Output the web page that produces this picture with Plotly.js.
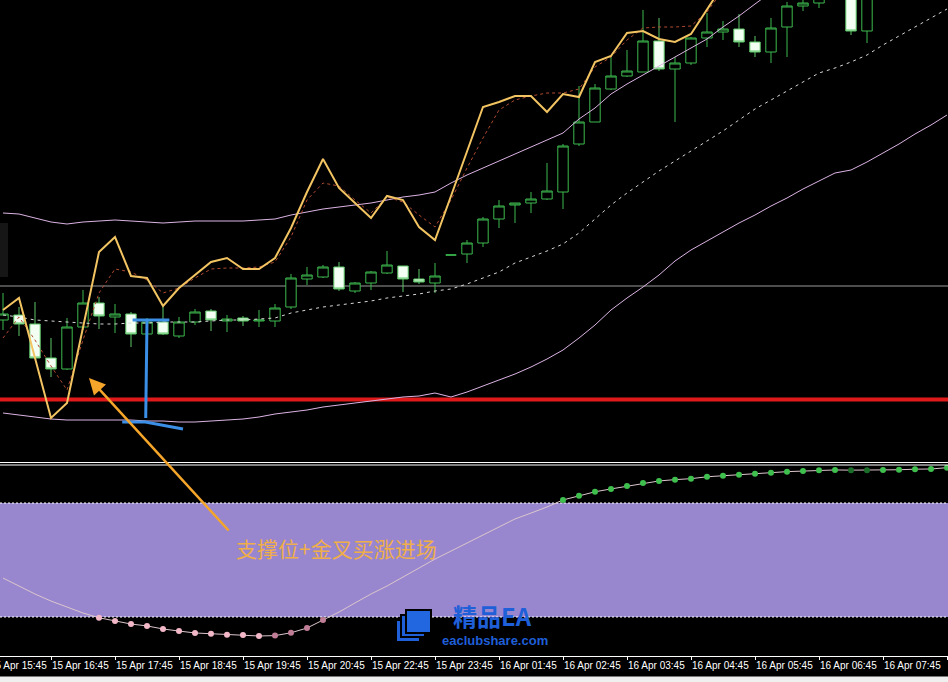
<!DOCTYPE html>
<html><head><meta charset="utf-8">
<script src="https://cdn.plot.ly/plotly-3.0.1.min.js"></script>
<style>html,body{margin:0;padding:0;background:#000;overflow:hidden}#chart{width:948px;height:682px}</style>
</head><body><div id="chart"></div>
<script>
// ---- data (price units; no price scale is shown) ----
const tickLabels = ["15 Apr 15:45","15 Apr 16:45","15 Apr 17:45","15 Apr 18:45","15 Apr 19:45","15 Apr 20:45","15 Apr 22:45","15 Apr 23:45","16 Apr 01:45","16 Apr 02:45","16 Apr 03:45","16 Apr 04:45","16 Apr 05:45","16 Apr 06:45","16 Apr 07:45","16 Apr 08:45"];
const tickBars = [-1,3,7,11,15,19,23,27,31,35,39,43,47,51,55,59];

const open  = [141,146,137,103,92,134,158,144,147,127,139,125,139,150,140,143,140,140,154,182,184,194,170,178,188,195,182,178,206,207,218,242,256,258,262,269,317,339,372,385,389,420,392,398,423,429,432,419,409,434,455,458,471,486,430,476,491,481,496,506];
const high  = [168,154,159,123,143,171,164,157,149,143,154,144,152,152,146,145,151,157,187,194,196,199,179,190,210,195,192,198,206,221,244,261,258,269,298,317,375,377,404,411,451,443,404,424,448,440,447,425,443,459,463,476,491,491,481,501,501,506,516,516];
const low   = [131,125,103,84,91,131,132,128,114,125,126,123,136,130,129,135,134,134,152,176,183,170,168,171,187,169,177,168,206,198,214,233,238,248,261,252,315,339,371,384,389,390,339,396,414,421,414,404,398,404,450,453,466,426,418,466,471,473,486,491];
const close = [147,137,103,92,134,158,145,147,127,139,127,139,149,141,142,140,141,153,183,186,194,172,178,189,196,182,179,185,206,218,242,255,258,262,270,315,339,373,385,390,420,392,398,423,429,432,419,409,433,455,458,471,481,430,476,491,481,496,506,499];

const fastLine = [151,163,103,43,58,133,209,224,185,183,155,173,186,199,203,192,192,203,233,269,302,273,258,243,265,261,234,221,265,310,354,359,365,365,349,367,364,399,405,428,430,422,419,427,451,476,486,496,501,511,516,521,526,521,526,531,536,541,546,551];
const slowLine = [123,144,121,95,71,121,168,192,189,181,168,173,183,192,193,193,194,199,224,261,278,275,261,248,264,259,246,234,261,293,323,351,361,365,368,368,372,394,404,421,433,434,434,435,449,471,481,491,496,501,506,511,516,516,521,526,531,536,541,546];

const bandUpper = [248,247,243,239,237,239,240,241,240,239,238,239,240,240,240,240,241,242,246,249,252,254,256,258,261,264,266,269,278,286,293,300,307,314,321,328,342,353,367,377,386,395,404,413,422,434,445,457,469,481,493,505,517,527,537,547,556,565,574,583];
const bandMid   = [146,144,141,140,139,138,137,137,138,138,139,139,139,140,141,141,142,143,148,151,154,156,158,160,163,165,167,170,172,177,183,189,198,204,210,217,228,242,256,268,279,290,300,310,320,330,341,352,361,370,379,388,393,399,406,416,425,434,443,452];
const bandLower = [48,46,44,42,41,41,41,41,41,40,40,39,39,40,41,42,44,47,49,51,54,56,58,60,62,64,65,68,64,69,75,81,87,94,102,111,123,136,151,163,174,186,200,211,220,229,238,246,255,263,272,280,288,291,299,308,317,327,336,346];

const osc = [40.5,36.3,32.1,28.4,25.3,22.1,19.6,17.9,16.3,15.3,13.7,12.6,11.6,11.2,10.7,10.5,10.0,10.2,11.7,14.2,18.4,22.6,27.4,32.1,36.3,41.0,45.8,50.5,54.7,58.9,63.2,67.4,71.6,74.7,77.9,81.6,83.8,85.9,87.4,88.9,90.5,91.6,92.3,92.8,93.8,94.4,94.9,95.4,95.9,96.5,96.8,97.2,97.4,97.3,97.3,97.4,97.5,97.8,97.9,98.6];
const oscHigh = 80, oscLow = 20;
const supportLevel = 61.5;
const refLevel = 175;
const noteText = "支撑位+金叉买涨进场";
const brandName = "精品EA";
const brandSite = "eaclubshare.com";

// ---- helpers for page geometry ----
const W = 948, PH = 656;
const px = p => p / W;
const py = p => (PH - p) / PH;
const bars = open.map((_, i) => i);

// oscillator dots only outside the band
const dotY = osc.map(v => (v > oscHigh || v < oscLow) ? v : null);
const dotC = osc.map((v, i) => {
  const prev = i > 0 ? osc[i - 1] : v;
  if (v > oscHigh) return v <= prev ? '#1b6e29' : '#3fbf4e';
  if (v < oscLow) return v > prev ? '#c07d96' : '#f2b8c8';
  return 'rgba(0,0,0,0)';
});

const inTicks = tickBars.filter(b => b >= 0);
const inText = tickLabels.filter((_, k) => tickBars[k] >= 0);

const traces = [
  {type:'scatter', mode:'lines', x:bars, y:bandUpper, line:{color:'#dcb4e4', width:1}, xaxis:'x', yaxis:'y'},
  {type:'scatter', mode:'lines', x:bars, y:bandLower, line:{color:'#dcb4e4', width:1}, xaxis:'x', yaxis:'y'},
  {type:'scatter', mode:'lines', x:bars, y:bandMid, line:{color:'#d8d8d8', width:1, dash:'3px,4px'}, xaxis:'x', yaxis:'y'},
  {type:'candlestick', x:bars, open:open, high:high, low:low, close:close, xaxis:'x', yaxis:'y',
   increasing:{line:{color:'#3dba4e', width:1}, fillcolor:'#000000'},
   decreasing:{line:{color:'#5cc866', width:1}, fillcolor:'#f4fff4'}, whiskerwidth:0},
  {type:'scatter', mode:'lines', x:bars, y:slowLine, line:{color:'#b04a30', width:1, dash:'3px,3px'}, xaxis:'x', yaxis:'y'},
  {type:'scatter', mode:'lines', x:bars, y:fastLine, line:{color:'#f3c462', width:2}, xaxis:'x', yaxis:'y'},
  {type:'scatter', mode:'lines', x:bars, y:osc, line:{color:'#dcc6cc', width:1}, xaxis:'x', yaxis:'y2'},
  {type:'scatter', mode:'markers', x:bars, y:dotY, marker:{size:6, color:dotC, line:{width:0}}, xaxis:'x', yaxis:'y2'}
];

const shapes = [
  {type:'rect', xref:'paper', yref:'paper', x0:0, x1:px(8), y0:py(277), y1:py(223), fillcolor:'#161616', line:{width:0}, layer:'below'},
  {type:'line', xref:'paper', yref:'y', x0:0, x1:1, y0:refLevel, y1:refLevel, line:{color:'#9a9a9a', width:1}, layer:'below'},
  {type:'line', xref:'paper', yref:'y', x0:0, x1:1, y0:supportLevel, y1:supportLevel, line:{color:'#e01a1a', width:4}, layer:'below'},
  {type:'line', xref:'paper', yref:'paper', x0:0, x1:1, y0:py(462.5), y1:py(462.5), line:{color:'#ffffff', width:1}},
  {type:'line', xref:'paper', yref:'paper', x0:0, x1:1, y0:py(465), y1:py(465), line:{color:'#ffffff', width:1}},
  {type:'rect', xref:'paper', yref:'y2', x0:0, x1:1, y0:oscLow, y1:oscHigh, fillcolor:'#9887cf', line:{width:0}, layer:'below'},
  {type:'line', xref:'paper', yref:'y2', x0:0, x1:1, y0:oscHigh, y1:oscHigh, line:{color:'#ffffff', width:1, dash:'2px,2px'}, layer:'below'},
  {type:'line', xref:'paper', yref:'y2', x0:0, x1:1, y0:oscLow, y1:oscLow, line:{color:'#ffffff', width:1, dash:'2px,2px'}, layer:'below'},
  // hand-drawn blue mark
  {type:'path', xref:'x', yref:'y', path:'M 8.1 141 L 10.4 141 M 9.0 141 L 8.92 43 M 7.45 39 L 8.9 39 L 11.25 32', line:{color:'#3b8fe6', width:3}},
  // logo icon
  {type:'rect', xref:'paper', yref:'paper', x0:px(396), x1:px(420), y0:py(642), y1:py(620), fillcolor:'#1f5fd8', line:{color:'#000', width:2}},
  {type:'rect', xref:'paper', yref:'paper', x0:px(401), x1:px(425), y0:py(637), y1:py(615), fillcolor:'#1f5fd8', line:{color:'#000', width:2}},
  {type:'rect', xref:'paper', yref:'paper', x0:px(406), x1:px(431), y0:py(633), y1:py(610), fillcolor:'#2266e0', line:{color:'#000', width:2}},
  {type:'rect', xref:'paper', yref:'paper', x0:0, x1:1, y0:py(682), y1:py(676.5), fillcolor:'#efefef', line:{width:0}}
];

const annotations = [
  {xref:'x', yref:'y', x:5.375, y:83, ax:141, ay:154, text:'', showarrow:true, arrowhead:2, arrowsize:1.3, arrowwidth:2.5, arrowcolor:'#f4a52a', standoff:0},
  {xref:'paper', yref:'paper', x:px(336), y:py(548), text:noteText, showarrow:false, xanchor:'center', yanchor:'middle',
   font:{family:'Noto Sans CJK SC', size:21, color:'#efae4a'}},
  {xref:'paper', yref:'paper', x:px(492), y:py(615.5), text:'<b>'+brandName+'</b>', showarrow:false, xanchor:'center', yanchor:'middle', borderpad:0,
   font:{family:'Noto Sans CJK SC', size:24, color:'#1f5fd8'}},
  {xref:'paper', yref:'paper', x:px(495), y:py(640.5), text:'<b>'+brandSite+'</b>', showarrow:false, xanchor:'center', yanchor:'middle', borderpad:0,
   font:{family:'Liberation Sans', size:13, color:'#1f5fd8'}},
  {xref:'paper', yref:'paper', x:px(3 + 16*tickBars[0] + 1), y:py(666), text:tickLabels[0], showarrow:false, xanchor:'left', yanchor:'middle',
   font:{family:'Liberation Sans', size:10, color:'#ffffff'}}
];

const layout = {
  width:948, height:682,
  margin:{l:0, r:0, t:0, b:26, pad:0},
  paper_bgcolor:'#000000', plot_bgcolor:'#000000',
  showlegend:false, hovermode:false, boxgap:0.35, boxgroupgap:0,
  xaxis:{anchor:'y2', range:[-3/16, 945/16], showgrid:false, zeroline:false, showline:true, linecolor:'#ffffff', linewidth:1,
         ticks:'outside', ticklen:3, tickcolor:'#ffffff', tickvals:inTicks, ticktext:inText, ticklabelposition:'outside right', tickangle:0,
         tickfont:{family:'Liberation Sans', size:10, color:'#ffffff'}, rangeslider:{visible:false}, fixedrange:true},
  yaxis:{domain:[py(461), 1], range:[0, 461], showgrid:false, zeroline:false, showticklabels:false, showline:false, fixedrange:true},
  yaxis2:{domain:[0, py(465)], range:[-0.526, 100], showgrid:false, zeroline:false, showticklabels:false, showline:false, fixedrange:true},
  shapes:shapes, annotations:annotations
};

Plotly.newPlot('chart', traces, layout, {staticPlot:true, displayModeBar:false});
</script>
</body></html>
